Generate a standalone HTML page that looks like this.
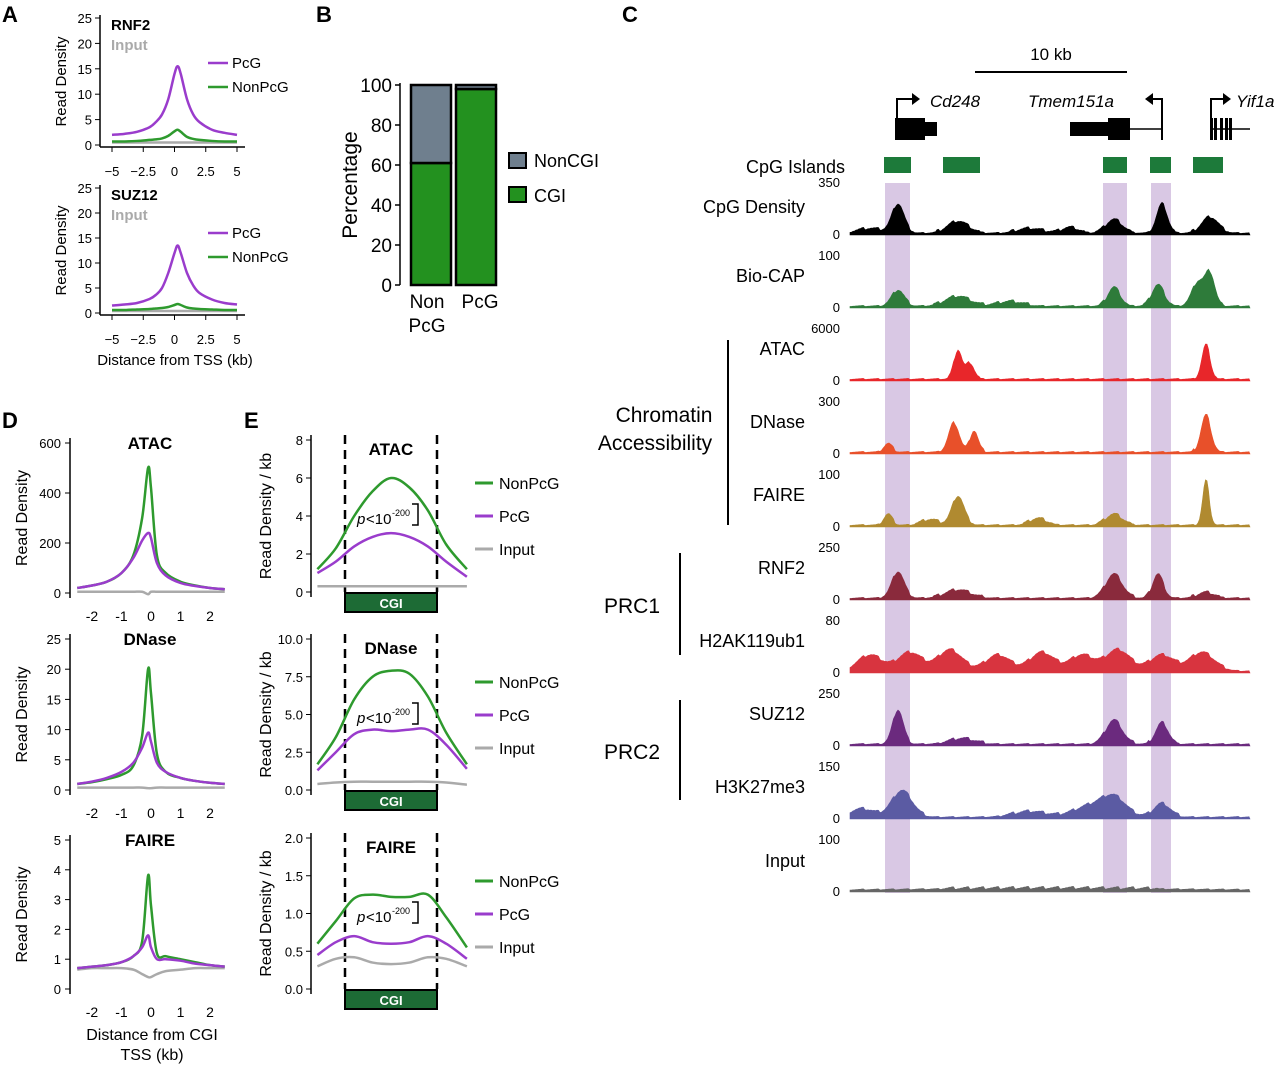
<!DOCTYPE html>
<html><head><meta charset="utf-8"><style>
body{margin:0;background:#fff}
svg{display:block;font-family:"Liberation Sans",Arial,sans-serif}
</style></head><body>
<svg id="fig" width="1280" height="1067" viewBox="0 0 1280 1067" xmlns="http://www.w3.org/2000/svg">
<g font-weight="bold" font-size="22" fill="#000">
<text x="2" y="22">A</text>
<text x="316" y="22">B</text>
<text x="622" y="22">C</text>
<text x="2" y="428">D</text>
<text x="244" y="428">E</text>
</g>
<g id="layer"></g>
</svg>
<script>
// ---------- data ----------
const aX=[-5,-4,-3,-2,-1.5,-1,-0.5,0,0.25,0.5,1,1.5,2,3,4,5];
const aRnf2PcG=[2,2.2,2.6,3.5,4.5,6,9,14,15.5,14,9,6,4.5,3,2.4,2];
const aRnf2Non=[0.7,0.7,0.8,1,1.1,1.3,1.8,2.7,3,2.6,1.6,1.2,1,0.8,0.7,0.7];
const aRnf2Inp=[0.5,0.5,0.5,0.5,0.5,0.5,0.5,0.5,0.5,0.5,0.5,0.5,0.5,0.5,0.5,0.5];
const aSuzPcG=[1.5,1.7,2,2.8,3.6,5,8,12,13.5,12,8,5.5,4,2.7,2,1.7];
const aSuzNon=[0.6,0.6,0.7,0.8,0.9,1,1.2,1.6,1.8,1.6,1.1,0.9,0.8,0.7,0.6,0.6];
const aSuzInp=[0.4,0.4,0.4,0.4,0.4,0.4,0.4,0.4,0.4,0.4,0.4,0.4,0.4,0.4,0.4,0.4];
const aTicks=["−5","−2.5","0","2.5","5"];const aTickVals=[-5,-2.5,0,2.5,5];
const aYTicks=[0,5,10,15,20,25];
const bCats=["Non\nPcG","PcG"];
const bCGI=[61,98];
const bNonCGI=[39,2];
const bYTicks=[0,20,40,60,80,100];
const dX=[-2.5,-2,-1.5,-1,-0.6,-0.3,-0.1,0,0.2,0.5,1,1.5,2,2.5];
const dAtacG=[20,30,45,80,150,300,500,420,150,80,45,30,20,15];
const dAtacP=[20,30,45,80,140,210,240,220,120,70,40,28,20,15];
const dAtacI=[5,5,5,5,5,5,-5,5,5,5,5,5,5,5];
const dDnaseG=[1,1.3,1.8,2.5,4,9,20,16,6,3,2,1.5,1.2,1];
const dDnaseP=[1,1.4,2,3,4.5,7,9.5,8,4.5,3,2,1.5,1.2,1];
const dDnaseI=[0.4,0.4,0.4,0.4,0.4,0.4,0.3,0.3,0.4,0.4,0.4,0.4,0.4,0.4];
const dFaireG=[0.7,0.75,0.8,0.9,1.1,1.6,3.8,2.8,1.2,1.1,1,0.9,0.8,0.75];
const dFaireP=[0.7,0.75,0.8,0.9,1.1,1.4,1.8,1.4,1,1,0.95,0.85,0.8,0.75];
const dFaireI=[0.65,0.7,0.7,0.7,0.65,0.5,0.4,0.4,0.5,0.6,0.65,0.7,0.7,0.7];
const dTicks=[-2,-1,0,1,2];
const eX=[-1.6,-1.2,-0.8,-0.4,0,0.4,0.8,1.2,1.65];
const eAtacG=[1.2,2.3,4,5.3,6,5.5,4.3,2.5,1.2];
const eAtacP=[1,1.6,2.4,2.9,3.1,2.9,2.4,1.6,0.8];
const eAtacI=[0.3,0.3,0.3,0.3,0.3,0.3,0.3,0.3,0.3];
const eDnaseG=[1.7,3.5,6,7.5,7.9,7.7,6.2,3.8,1.7];
const eDnaseP=[1.3,2.5,3.7,4,3.9,4,4,3,1.4];
const eDnaseI=[0.4,0.5,0.55,0.55,0.55,0.55,0.55,0.5,0.35];
const eFaireG=[0.6,0.9,1.2,1.25,1.22,1.22,1.25,0.95,0.55];
const eFaireP=[0.45,0.62,0.7,0.62,0.6,0.62,0.7,0.6,0.4];
const eFaireI=[0.3,0.4,0.42,0.35,0.33,0.35,0.42,0.4,0.3];
const cTracks=["CpG Density","Bio-CAP","ATAC","DNase","FAIRE","RNF2","H2AK119ub1","SUZ12","H3K27me3","Input"];
const cMax=["350","100","6000","300","100","250","80","250","150","100"];
// peaks: [genomic pos (0-100), height fraction, width]
const cPeaks=[
 [[12,0.55,1.5],[27,0.22,2.5],[66,0.25,2],[78,0.55,1.3],[90,0.3,2],[45,0.08,3],[5,0.08,3],[55,0.1,2]],
 [[12,0.3,1.5],[27,0.18,3],[66,0.35,1.5],[77,0.4,1.5],[87,0.45,1.5],[90,0.6,1.2],[40,0.08,3]],
 [[27,0.55,1],[30,0.3,1],[89,0.65,1]],
 [[9.5,0.15,1],[26,0.55,1.3],[31,0.4,1],[89,0.7,1.2]],
 [[9.5,0.2,1],[27,0.55,1.5],[89,0.85,0.8],[66,0.2,2],[47,0.12,2],[20,0.1,2]],
 [[12,0.5,1.5],[27,0.15,3],[66,0.45,2],[77,0.45,1.3],[89,0.1,2]],
 [[5,0.3,3],[15,0.35,3],[25,0.4,3],[37,0.3,3],[48,0.35,3],[58,0.3,3],[67,0.4,3],[78,0.3,3],[88,0.35,3]],
 [[12,0.65,1.3],[66,0.45,2],[78,0.4,1.5],[28,0.1,3]],
 [[13,0.5,2.5],[3,0.15,3],[60,0.2,4],[66,0.35,3],[78,0.25,2],[45,0.1,4]],
 [[50,0.03,30]]
];
const cColors=["#000","#2e7b3a","#e8262a","#e8502a","#b08a30","#8a2a3c","#d8343f","#6b2a7e","#5b5ba3","#666"];
// ---------- helpers ----------
const NS="http://www.w3.org/2000/svg";
const L=document.getElementById('layer');
function el(tag,attrs,parent){const e=document.createElementNS(NS,tag);for(const k in attrs)e.setAttribute(k,attrs[k]);(parent||L).appendChild(e);return e;}
function txt(x,y,s,attrs){const t=el('text',Object.assign({x:x,y:y},attrs||{}));t.textContent=s;return t;}
function spline(pts){let d="M"+pts[0][0]+","+pts[0][1];for(let i=0;i<pts.length-1;i++){const p0=pts[i-1]||pts[i],p1=pts[i],p2=pts[i+1],p3=pts[i+2]||p2;d+=" C"+(p1[0]+(p2[0]-p0[0])/6)+","+(p1[1]+(p2[1]-p0[1])/6)+" "+(p2[0]-(p3[0]-p1[0])/6)+","+(p2[1]-(p3[1]-p1[1])/6)+" "+p2[0]+","+p2[1];}return d;}
function line(x1,y1,x2,y2,w,c,name){const l=el('line',{x1:x1,y1:y1,x2:x2,y2:y2,stroke:c||"#000","stroke-width":w||1.5});return l;}
function curve(xs,ys,sx,sy,color,name){const p=el('path',{d:spline(xs.map((x,i)=>[sx(x),sy(ys[i])])),fill:"none",stroke:color,"stroke-width":2.5});}
const GREEN="#2e9a2e",PURP="#9a3ccc",GRAY="#aaa";
// ---------- panel A ----------
function panelA(top,bot,title,pcg,non,inp,pref){
 const sx=x=>174.5+x*12.5, sy=v=>bot-(bot-top)*v/25;
 line(100,top-3,100,bot+2); line(100,bot+2,245,bot+2);
 aYTicks.forEach(v=>{line(95,sy(v),100,sy(v),1);txt(92,sy(v)+5,v,{"font-size":13,"text-anchor":"end"});});
 aTickVals.forEach((v,i)=>{line(sx(v),bot+2,sx(v),bot+7,1);txt(sx(v),bot+31,aTicks[i],{"font-size":13,"text-anchor":"middle"});});
 txt(66,(top+bot)/2,"Read Density",{"font-size":15,"text-anchor":"middle",transform:`rotate(-90 66 ${(top+bot)/2})`});
 txt(111,top+12,title,{"font-size":15,"font-weight":"bold"});
 txt(111,top+32,"Input",{"font-size":15,"font-weight":"bold",fill:"#aaa"});
 curve(aX,inp,sx,sy,GRAY,pref+'-input-line');curve(aX,non,sx,sy,GREEN,pref+'-nonpcg-line');curve(aX,pcg,sx,sy,PURP,pref+'-pcg-line');
 line(208,top+45,228,top+45,2.5,PURP,'legend-pcg-swatch');txt(232,top+50,"PcG",{"font-size":15});
 line(208,top+69,228,top+69,2.5,GREEN,'legend-nonpcg-swatch');txt(232,top+74,"NonPcG",{"font-size":15});
}
panelA(18,145,"RNF2",aRnf2PcG,aRnf2Non,aRnf2Inp,'rnf2');
panelA(188,313,"SUZ12",aSuzPcG,aSuzNon,aSuzInp,'suz12');
txt(175,365,"Distance from TSS (kb)",{"font-size":15,"text-anchor":"middle"});
// ---------- panel B ----------
{const sy=v=>285-2*v;
 line(400,83,400,285);
 bYTicks.forEach(v=>{line(395,sy(v),400,sy(v),1.5);txt(392,sy(v)+7,v,{"font-size":19,"text-anchor":"end"});});
 txt(357,185,"Percentage",{"font-size":21,"text-anchor":"middle",transform:"rotate(-90 357 185)"});
 const bx=[411,456];
 bCats.forEach((c,i)=>{
  const r1=el('rect',{x:bx[i],y:sy(bCGI[i]),width:40,height:sy(0)-sy(bCGI[i]),fill:"#23911f",stroke:"#000","stroke-width":2.5});
  const r2=el('rect',{x:bx[i],y:sy(bCGI[i]+bNonCGI[i]),width:40,height:sy(bCGI[i])-sy(bCGI[i]+bNonCGI[i]),fill:"#6f7f8e",stroke:"#000","stroke-width":2.5});
  c.split("\n").forEach((s,j)=>txt(bx[i]+(i?24:16),308+j*24,s,{"font-size":19,"text-anchor":"middle"}));
 });
 el('rect',{x:509,y:153,width:17,height:15,fill:"#6f7f8e",stroke:"#000","stroke-width":2});txt(534,167,"NonCGI",{"font-size":18});
 el('rect',{x:509,y:187,width:17,height:15,fill:"#23911f",stroke:"#000","stroke-width":2});txt(534,202,"CGI",{"font-size":18});
}
// ---------- panel D ----------
function panelD(top,bot,max,ticks,title,g,p,inp,pref){
 const sx=x=>151+x*29.5, sy=v=>bot-(bot-top)*v/max;
 line(70,top-5,70,bot+5);
 ticks.forEach(v=>{line(65,sy(v),70,sy(v),1);txt(61,sy(v)+5,v,{"font-size":13,"text-anchor":"end"});});
 dTicks.forEach(v=>{txt(sx(v),bot+28,v,{"font-size":14,"text-anchor":"middle"});});
 txt(27,(top+bot)/2,"Read Density",{"font-size":16,"text-anchor":"middle",transform:`rotate(-90 27 ${(top+bot)/2})`});
 txt(150,top+6,title,{"font-size":17,"font-weight":"bold","text-anchor":"middle"});
 curve(dX,inp,sx,sy,GRAY,pref+'-input-line');curve(dX,g,sx,sy,GREEN,pref+'-nonpcg-line');curve(dX,p,sx,sy,PURP,pref+'-pcg-line');
}
panelD(443,593,600,[0,200,400,600],"ATAC",dAtacG,dAtacP,dAtacI,'d-atac');
panelD(639,790,25,[0,5,10,15,20,25],"DNase",dDnaseG,dDnaseP,dDnaseI,'d-dnase');
panelD(840,989,5,[0,1,2,3,4,5],"FAIRE",dFaireG,dFaireP,dFaireI,'d-faire');
txt(152,1040,"Distance from CGI",{"font-size":16,"text-anchor":"middle"});
txt(152,1060,"TSS (kb)",{"font-size":16,"text-anchor":"middle"});
// ---------- panel E ----------
function panelE(top,bot,max,ticks,labels,title,g,p,inp,pref){
 const sx=x=>391+x*46, sy=v=>bot-(bot-top)*v/max;
 line(311,top-5,311,bot+5);
 ticks.forEach((v,i)=>{line(306,sy(v),311,sy(v),1);txt(303,sy(v)+5,labels[i],{"font-size":13,"text-anchor":"end"});});
 txt(271,(top+bot)/2,"Read Density / kb",{"font-size":16,"text-anchor":"middle",transform:`rotate(-90 271 ${(top+bot)/2})`});
 el('line',{x1:345,y1:top-5,x2:345,y2:bot,stroke:"#000","stroke-width":2.5,"stroke-dasharray":"9,6"});
 el('line',{x1:437,y1:top-5,x2:437,y2:bot,stroke:"#000","stroke-width":2.5,"stroke-dasharray":"9,6"});
 txt(391,top+15,title,{"font-size":17,"font-weight":"bold","text-anchor":"middle"});
 curve(eX,inp,sx,sy,GRAY,pref+'-input-line');curve(eX,g,sx,sy,GREEN,pref+'-nonpcg-line');curve(eX,p,sx,sy,PURP,pref+'-pcg-line');
 const r=el('rect',{x:345,y:bot+1,width:92,height:19,fill:"#1d6b35",stroke:"#000","stroke-width":2});
 txt(391,bot+16,"CGI",{"font-size":13,"font-weight":"bold",fill:"#fff","text-anchor":"middle"});
 const ys=top+43;
 txt(357,ys+41,"p",{"font-size":15,"font-style":"italic"});txt(366,ys+41,"<10",{"font-size":15});txt(392,ys+33,"-200",{"font-size":9});
 el('path',{d:`M412,${ys+21} H418 V${ys+42} H412`,fill:"none",stroke:"#000","stroke-width":1.5});
 line(475,ys,493,ys,3,GREEN,'legend-nonpcg-swatch');txt(499,ys+6,"NonPcG",{"font-size":16});
 line(475,ys+33,493,ys+33,3,PURP,'legend-pcg-swatch');txt(499,ys+39,"PcG",{"font-size":16});
 line(475,ys+66,493,ys+66,3,GRAY,'legend-input-swatch');txt(499,ys+72,"Input",{"font-size":16});
}
panelE(440,592,8,[0,2,4,6,8],["0","2","4","6","8"],"ATAC",eAtacG,eAtacP,eAtacI,'e-atac');
panelE(639,790,10,[0,2.5,5,7.5,10],["0.0","2.5","5.0","7.5","10.0"],"DNase",eDnaseG,eDnaseP,eDnaseI,'e-dnase');
panelE(838,989,2,[0,0.5,1,1.5,2],["0.0","0.5","1.0","1.5","2.0"],"FAIRE",eFaireG,eFaireP,eFaireI,'e-faire');
// ---------- panel C ----------
{
 [[885,25],[1103,24],[1151,20]].forEach((h,i)=>{const r=el('rect',{x:h[0],y:183,width:h[1],height:710,fill:"#d9c8e4"});});
 line(975,72,1127,72,2);txt(1051,60,"10 kb",{"font-size":17,"text-anchor":"middle"});
 el('rect',{x:895,y:118,width:30,height:22,fill:"#000"});el('rect',{x:925,y:122,width:12,height:14,fill:"#000"});
 el('path',{d:"M897,118 V99 H915",fill:"none",stroke:"#000","stroke-width":2});el('path',{d:"M912,93 L920,99 L912,105 Z"});
 txt(930,107,"Cd248",{"font-size":17,"font-style":"italic"});
 el('rect',{x:1070,y:122,width:38,height:14,fill:"#000"});el('rect',{x:1108,y:118,width:22,height:22,fill:"#000"});
 line(1130,129,1162,129,1.5);line(1162,118,1162,140,2);
 el('path',{d:"M1162,118 V99 H1150",fill:"none",stroke:"#000","stroke-width":2});el('path',{d:"M1153,93 L1145,99 L1153,105 Z"});
 txt(1028,107,"Tmem151a",{"font-size":17,"font-style":"italic"});
 el('path',{d:"M1211,118 V99 H1225",fill:"none",stroke:"#000","stroke-width":2});el('path',{d:"M1223,93 L1231,99 L1223,105 Z"});
 line(1210,129,1250,129,1.5);[1210,1214,1220,1225,1229].forEach(x=>el('rect',{x:x,y:118,width:3,height:22,fill:"#000"}));
 txt(1236,107,"Yif1a",{"font-size":17,"font-style":"italic"});
 txt(845,173,"CpG Islands",{"font-size":18,"text-anchor":"end"});
 [[884,27],[943,37],[1103,24],[1150,21],[1193,30]].forEach((c,i)=>{const r=el('rect',{x:c[0],y:157,width:c[1],height:16,fill:"#1d7a3a"});});
 const base=[235,308,381,454,527,600,673,746,819,892];
 const labY=[213,282,355,428,501,574,647,720,793,867];
 cTracks.forEach((name,t)=>{
  const b=base[t],H=52;
  txt(840,b-H+4,cMax[t],{"font-size":13,"text-anchor":"end"});txt(840,b+4,"0",{"font-size":13,"text-anchor":"end"});
  txt(805,labY[t],name,{"font-size":18,"text-anchor":"end"});
  let d=`M850,${b}`;
  for(let px=850;px<=1250;px+=1.5){const g=(px-850)/4;let v=0.03;cPeaks[t].forEach(pk=>{const z=(g-pk[0])/pk[2];v+=pk[1]*Math.exp(-z*z/2);});
   const jag=((Math.floor(px*7)%5)/5)*0.06*(v>0.05?1:0.4);d+=` L${px},${b-H*Math.min(1,v+jag)}`;}
  d+=` L1250,${b} Z`;
  const p=el('path',{d:d,fill:cColors[t],stroke:cColors[t],"stroke-width":0.6});
  
  
 });
 line(728,340,728,525,2);line(680,553,680,655,2);line(680,700,680,800,2);
 txt(664,422,"Chromatin",{"font-size":21,"text-anchor":"middle"});
 txt(655,450,"Accessibility",{"font-size":21,"text-anchor":"middle"});
 txt(632,613,"PRC1",{"font-size":21,"text-anchor":"middle"});
 txt(632,759,"PRC2",{"font-size":21,"text-anchor":"middle"});
}
</script>
</body></html>
